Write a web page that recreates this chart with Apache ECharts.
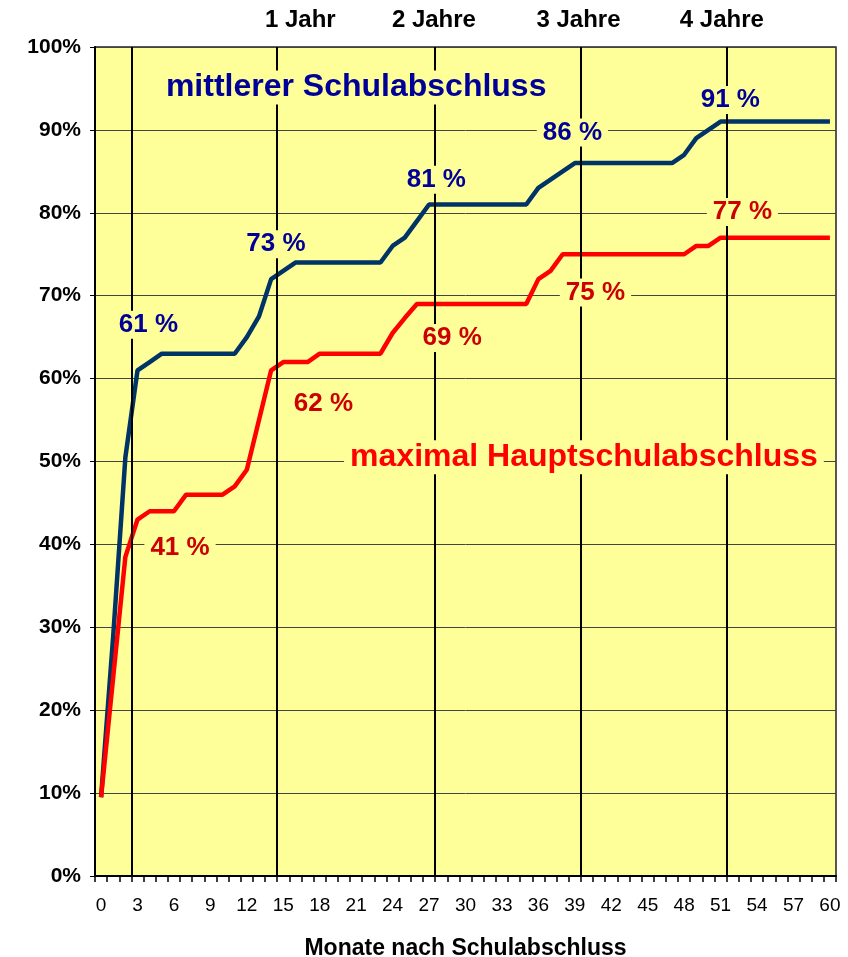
<!DOCTYPE html>
<html>
<head>
<meta charset="utf-8">
<script src="https://cdn.jsdelivr.net/npm/echarts@6/dist/echarts.min.js"></script>
<style>
  html, body { margin: 0; padding: 0; background: #fff; }
  #main { width: 848px; height: 957px; }
</style>
</head>
<body>
<div id="main"></div>
<script>
var months = ['0','1','2','3','4','5','6','7','8','9','10','11','12','13','14','15','16','17','18','19','20',
  '21','22','23','24','25','26','27','28','29','30','31','32','33','34','35','36','37','38','39','40',
  '41','42','43','44','45','46','47','48','49','50','51','52','53','54','55','56','57','58','59','60'];

var mittlerer = [9.5, 29, 50.5, 61, 62, 63, 63, 63, 63, 63, 63, 63, 65, 67.5, 72, 73, 74,
  74, 74, 74, 74, 74, 74, 74,
  76, 77, 79, 81,
  81, 81, 81, 81, 81, 81, 81, 81,
  83, 84, 85, 86,
  86, 86, 86, 86, 86, 86, 86, 86,
  87, 89, 90, 91,
  91, 91, 91, 91, 91, 91, 91, 91, 91];

var hauptschule = [9.5, 24, 38.5, 43, 44, 44, 44, 46, 46, 46, 46, 47, 49, 55, 61, 62, 62, 62, 63,
  63, 63, 63, 63, 63,
  65.5, 67.3, 69,
  69, 69, 69, 69, 69, 69, 69, 69, 69,
  72, 73, 75,
  75, 75, 75, 75, 75, 75, 75, 75, 75, 75,
  76, 76, 77,
  77, 77, 77, 77, 77, 77, 77, 77, 77];

// year marker lines (month position) and their top captions
var yearLines = [2.5, 14.5, 27.5, 39.5, 51.5];
var yearLabels = ['1 Jahr', '2 Jahre', '3 Jahre', '4 Jahre'];
var yearLabelMonths = [16.4, 27.4, 39.3, 51.1];

// value annotations [month, y, text]
var blueNotes = [[3.9, 66.5, '61 %'], [14.4, 76.2, '73 %'], [27.6, 84, '81 %'], [38.8, 89.7, '86 %'], [51.8, 93.6, '91 %']];
var redNotes = [[6.5, 39.6, '41 %'], [18.3, 56.9, '62 %'], [28.9, 64.9, '69 %'], [40.7, 70.4, '75 %'], [52.8, 80.1, '77 %']];
var seriesTitles = [
  [21.0, 95.1, 'mittlerer Schulabschluss', '#000099'],
  [39.75, 50.5, 'maximal Hauptschulabschluss', '#FF0000']
];

var font = 'Liberation Sans, Arial, sans-serif';

function notePoint(n, color, size) {
  return {
    coord: [n[0], n[1]],
    label: {
      show: true, formatter: n[2], color: color, fontSize: size, fontWeight: 'bold',
      fontFamily: font, backgroundColor: '#FFFF99', padding: [1, 6]
    }
  };
}

var notes = [];
blueNotes.forEach(function (n) { notes.push(notePoint(n, '#000099', 26)); });
redNotes.forEach(function (n) { notes.push(notePoint(n, '#CC0000', 26)); });
seriesTitles.forEach(function (n) { notes.push(notePoint(n, n[3], 32)); });

var myChart = echarts.init(document.getElementById('main'));
myChart.setOption({
  animation: false,
  grid: {
    left: 95, right: 12, top: 47, bottom: 81,
    outerBoundsMode: 'none',
    show: true, backgroundColor: '#FFFF99', borderColor: '#222', borderWidth: 1.5
  },
  xAxis: [
    {
      type: 'category',
      data: months,
      boundaryGap: true,
      name: 'Monate nach Schulabschluss',
      nameLocation: 'middle',
      nameGap: 61,
      nameTextStyle: { color: '#000', fontSize: 23, fontWeight: 'bold', fontFamily: font },
      axisLine: { lineStyle: { color: '#000', width: 2 } },
      axisTick: { show: true, interval: 0, length: 6, lineStyle: { color: '#000', width: 1.5 } },
      axisLabel: { interval: 2, color: '#000', fontSize: 19, fontFamily: font, margin: 20 },
      splitLine: { show: false }
    },
    { type: 'value', min: -0.5, max: 60.5, show: false }
  ],
  yAxis: {
    type: 'value',
    min: 0, max: 100, interval: 10,
    axisLine: { show: true, onZero: false, lineStyle: { color: '#000', width: 2 } },
    axisTick: { show: true, length: 5, lineStyle: { color: '#000' } },
    axisLabel: { formatter: '{value}%', color: '#000', fontSize: 21, fontWeight: 'bold', fontFamily: font, margin: 14 },
    splitLine: { lineStyle: { color: '#444', width: 1 } }
  },
  series: [
    {
      type: 'line', xAxisIndex: 1, data: [], z: 1, silent: true,
      markLine: {
        symbol: 'none', silent: true, animation: false,
        lineStyle: { color: '#000', width: 2, type: 'solid' },
        label: { show: false },
        data: yearLines.map(function (m) { return { xAxis: m }; })
      }
    },
    {
      name: 'mittlerer Schulabschluss', type: 'line', data: mittlerer, z: 3,
      showSymbol: false, lineStyle: { color: '#003366', width: 4.5 }, itemStyle: { color: '#003366' }
    },
    {
      name: 'maximal Hauptschulabschluss', type: 'line', data: hauptschule, z: 3,
      showSymbol: false, lineStyle: { color: '#FF0000', width: 4.5 }, itemStyle: { color: '#FF0000' }
    },
    {
      type: 'line', xAxisIndex: 1, data: [], z: 5, silent: true,
      markPoint: {
        symbol: 'rect', symbolSize: 1, silent: true, animation: false,
        itemStyle: { color: 'rgba(0,0,0,0)' },
        data: notes
      }
    }
  ]
});

// captions above the plot, placed through the month axis
myChart.setOption({
  graphic: yearLabels.map(function (t, i) {
    return {
      type: 'text',
      x: myChart.convertToPixel({ xAxisIndex: 1 }, yearLabelMonths[i]),
      y: 20,
      style: {
        text: t, fill: '#000', font: 'bold 24px ' + font,
        textAlign: 'center', textVerticalAlign: 'middle'
      }
    };
  })
});
</script>
</body>
</html>
